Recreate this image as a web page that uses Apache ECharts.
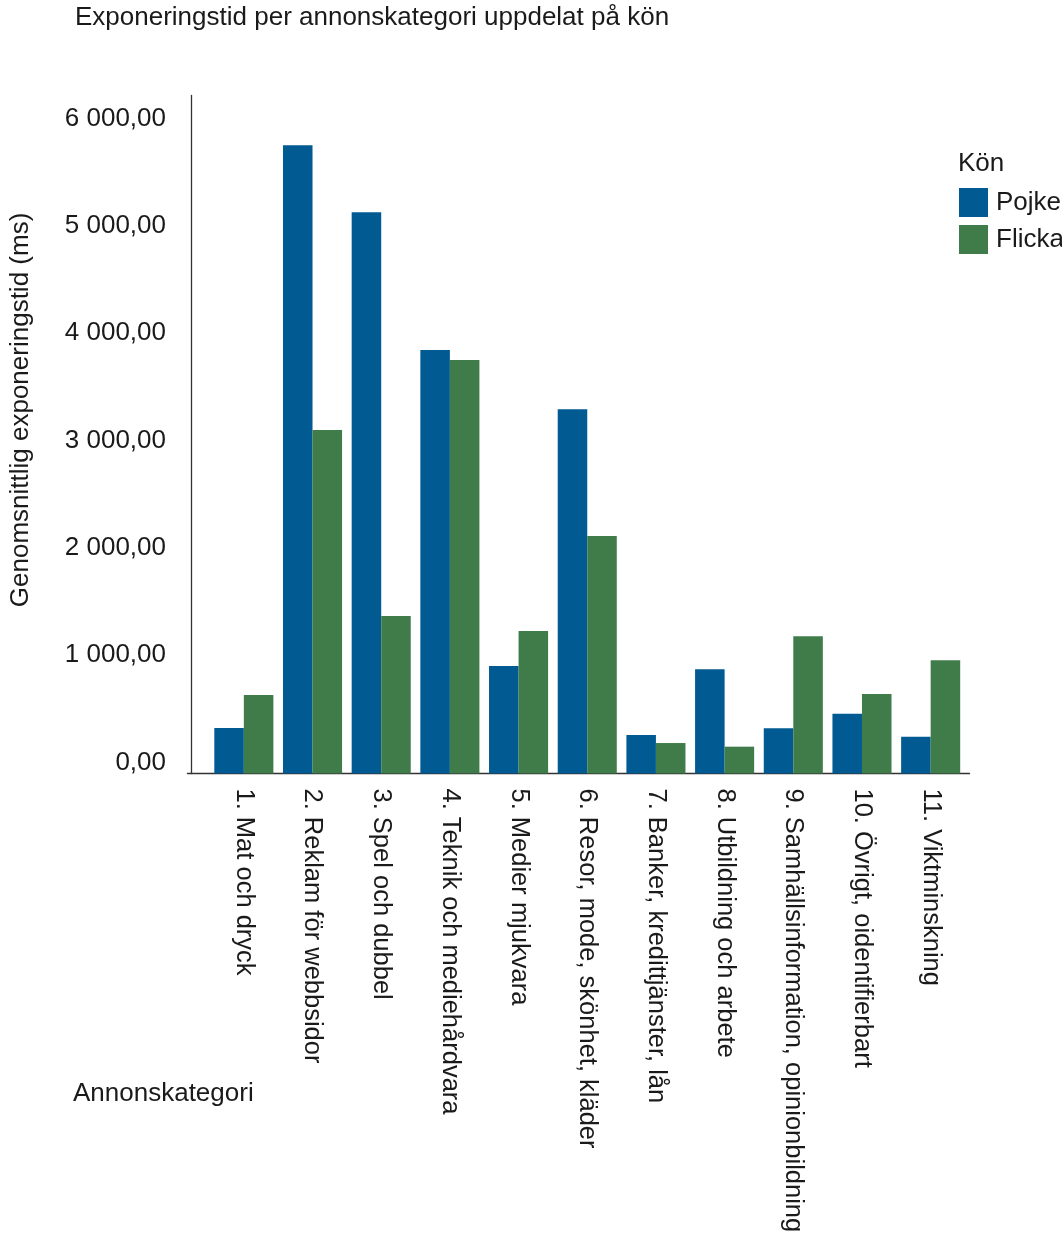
<!DOCTYPE html>
<html>
<head>
<meta charset="utf-8">
<script src="https://cdn.jsdelivr.net/npm/echarts@6/dist/echarts.min.js"></script>
<style>
html,body{margin:0;padding:0;background:#fff;}
#chart{width:1062px;height:1237px;}
</style>
</head>
<body>
<div id="chart"></div>
<script>
const categories = [
  '1. Mat och dryck',
  '2. Reklam för webbsidor',
  '3. Spel och dubbel',
  '4. Teknik och mediehårdvara',
  '5. Medier mjukvara',
  '6. Resor, mode, skönhet, kläder',
  '7. Banker, kredittjänster, lån',
  '8. Utbildning och arbete',
  '9. Samhällsinformation, opinionbildning',
  '10. Övrigt, oidentifierbart',
  '11. Viktminskning'
];
const pojke  = [424, 5855, 5230, 3947, 1002, 3394, 359, 971, 421, 557, 343];
const flicka = [731, 3201, 1468, 3854, 1328, 2213, 284, 250, 1279, 741, 1055];
const seriesNames = ['Pojke', 'Flicka'];
const yTickInterval = 1000;
const yAxisMax = 6320;

function fmt(v) {
  const parts = Math.round(v).toString().replace(/\B(?=(\d{3})+(?!\d))/g, ' ');
  return parts + ',00';
}

const FONT = 'Liberation Sans, Arial, sans-serif';
const TXT = '#1a1a1a';

const chart = echarts.init(document.getElementById('chart'), null, {renderer: 'canvas'});
chart.setOption({
  animation: false,
  backgroundColor: '#ffffff',
  textStyle: {fontFamily: FONT, color: TXT},
  title: [
    {text: 'Exponeringstid per annonskategori uppdelat på kön', left: 70, top: 0,
     textStyle: {fontFamily: FONT, fontSize: 26, fontWeight: 'normal', color: TXT}},
    {text: 'Kön', left: 953, top: 146,
     textStyle: {fontFamily: FONT, fontSize: 26, fontWeight: 'normal', color: TXT}},
    {text: 'Annonskategori', left: 68, top: 1076,
     textStyle: {fontFamily: FONT, fontSize: 26, fontWeight: 'normal', color: TXT}}
  ],
  legend: {
    orient: 'vertical', left: 959, top: 188, padding: 0,
    itemWidth: 29, itemHeight: 29, itemGap: 8,
    icon: 'rect',
    data: seriesNames,
    textStyle: {fontFamily: FONT, fontSize: 26, color: TXT, padding: [4, 0, 0, 3]}
  },
  grid: [
    {left: 206, right: 97, top: 95.4, bottom: 463.5, containLabel: false},
    {left: 187.5, right: 92.5, top: 95.4, bottom: 463.5, containLabel: false}
  ],
  xAxis: [
    {
      type: 'category', gridIndex: 0, data: categories,
      axisLine: {show: false}, axisTick: {show: false},
      axisLabel: {rotate: -90, interval: 0, margin: 15, fontSize: 25.5, color: TXT, fontFamily: FONT,
                  padding: [10, 0, 0, 0]}
    },
    {
      type: 'value', gridIndex: 1, min: 0, max: 1,
      axisLine: {show: true, onZero: false, lineStyle: {color: '#333', width: 1.3}},
      axisTick: {show: false}, axisLabel: {show: false}, splitLine: {show: false}
    }
  ],
  yAxis: [
    {
      type: 'value', gridIndex: 0, min: 0, max: yAxisMax, interval: yTickInterval,
      offset: 18.5,
      name: 'Genomsnittlig exponeringstid (ms)', nameLocation: 'middle', nameGap: 157,
      nameTextStyle: {fontFamily: FONT, fontSize: 26, color: TXT, padding: [0, 0, 0, 49]},
      axisLine: {show: true, lineStyle: {color: '#333', width: 1.3}},
      axisTick: {show: false},
      splitLine: {show: false},
      axisLabel: {
        showMaxLabel: false, margin: 25, fontSize: 26, color: TXT, fontFamily: FONT,
        verticalAlign: 'bottom', lineHeight: 22,
        formatter: function (v) { return v % yTickInterval === 0 ? fmt(v) : ''; }
      }
    },
    {
      type: 'value', gridIndex: 1, min: 0, max: 1, show: false
    }
  ],
  series: [
    {name: seriesNames[0], type: 'bar', xAxisIndex: 0, yAxisIndex: 0, data: pojke,
     barGap: '0%', barCategoryGap: '14%', itemStyle: {color: '#015B92'}},
    {name: seriesNames[1], type: 'bar', xAxisIndex: 0, yAxisIndex: 0, data: flicka,
     barGap: '0%', barCategoryGap: '14%', itemStyle: {color: '#3F7C4A'}}
  ]
});
</script>
</body>
</html>
